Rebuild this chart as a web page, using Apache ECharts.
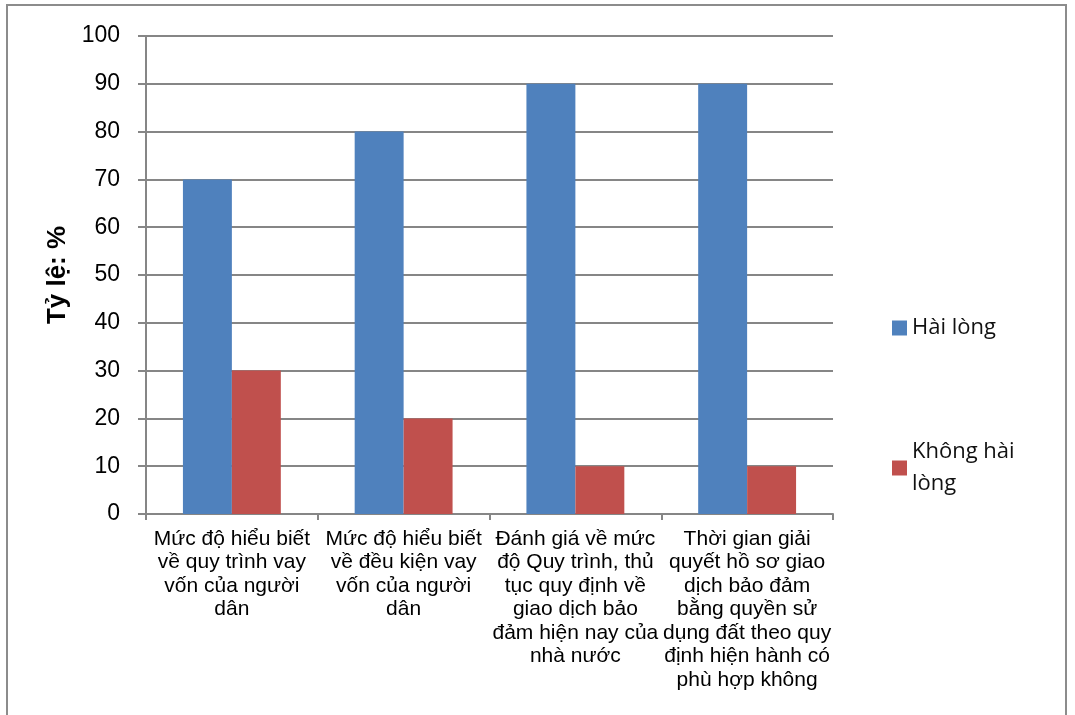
<!DOCTYPE html>
<html lang="vi">
<head>
    <meta charset="UTF-8">
    <title>Tỷ lệ hài lòng</title>
    <script src="https://cdn.jsdelivr.net/npm/echarts@6/dist/echarts.min.js"></script>
    <style>
        html, body { margin: 0; padding: 0; background: #fff; }
        #chart { width: 1075px; height: 715px; }
    </style>
</head>
<body>
    <div id="chart"></div>
    <script>
        // categories (wrapped the same way as the picture)
        var categories = [
            'Mức độ hiểu biết\nvề quy trình vay\nvốn của người\ndân',
            'Mức độ hiểu biết\nvề đều kiện vay\nvốn của người\ndân',
            'Đánh giá về mức\nđộ Quy trình, thủ\ntục quy định về\ngiao dịch bảo\nđảm hiện nay của\nnhà nước',
            'Thời gian giải\nquyết hồ sơ giao\ndịch bảo đảm\nbằng quyền sử\ndụng đất theo quy\nđịnh hiện hành có\nphù hợp không'
        ];
        var haiLong = [70, 80, 90, 90];
        var khongHaiLong = [30, 20, 10, 10];
        var yTicks = [0, 100, 10]; // min, max, step

        var gridColor = '#868686';
        var myChart = echarts.init(document.getElementById('chart'));
        var option = {
            animation: false,
            graphic: [{
                type: 'rect',
                shape: { x: 7, y: 5, width: 1059, height: 730 },
                style: { fill: 'none', stroke: '#8c8c8c', lineWidth: 2 },
                silent: true
            }],
            grid: { left: 146, right: 242, top: 36, bottom: 201 },
            legend: [{
                orient: 'vertical',
                left: 887,
                top: 312,
                icon: 'rect',
                itemWidth: 15,
                itemHeight: 15,
                data: ['Hài lòng'],
                textStyle: { fontFamily: 'Open Sans', fontSize: 22, color: '#111' }
            }, {
                orient: 'vertical',
                left: 887,
                top: 431,
                icon: 'rect',
                itemWidth: 15,
                itemHeight: 15,
                data: ['Không hài lòng'],
                formatter: function () { return 'Không hài\nlòng'; },
                textStyle: { fontFamily: 'Open Sans', fontSize: 22, color: '#111', lineHeight: 32 }
            }],
            xAxis: {
                type: 'category',
                data: categories,
                axisLine: { lineStyle: { color: gridColor, width: 2 } },
                axisTick: { show: true, length: 6, lineStyle: { color: gridColor, width: 2 } },
                axisLabel: {
                    interval: 0,
                    margin: 13,
                    fontFamily: 'Liberation Sans',
                    fontSize: 21,
                    lineHeight: 23.5,
                    color: '#000'
                }
            },
            yAxis: {
                type: 'value',
                min: yTicks[0],
                max: yTicks[1],
                interval: yTicks[2],
                name: 'Tỷ lệ: %',
                nameLocation: 'middle',
                nameGap: 73,
                nameTextStyle: { fontFamily: 'Liberation Sans', fontSize: 26, fontWeight: 'bold', color: '#000' },
                axisLine: { show: true, lineStyle: { color: gridColor, width: 2 } },
                axisTick: { show: true, inside: false, length: 8, lineStyle: { color: gridColor, width: 2 } },
                splitLine: { lineStyle: { color: gridColor, width: 2 } },
                axisLabel: {
                    margin: 26,
                    fontFamily: 'Liberation Sans',
                    fontSize: 23,
                    color: '#000'
                }
            },
            series: [{
                name: 'Hài lòng',
                type: 'bar',
                data: haiLong,
                barGap: '0%',
                barCategoryGap: '43%',
                itemStyle: { color: '#4F81BD' }
            }, {
                name: 'Không hài lòng',
                type: 'bar',
                data: khongHaiLong,
                itemStyle: { color: '#C0504D' }
            }]
        };
        myChart.setOption(option);
    </script>
</body>
</html>
